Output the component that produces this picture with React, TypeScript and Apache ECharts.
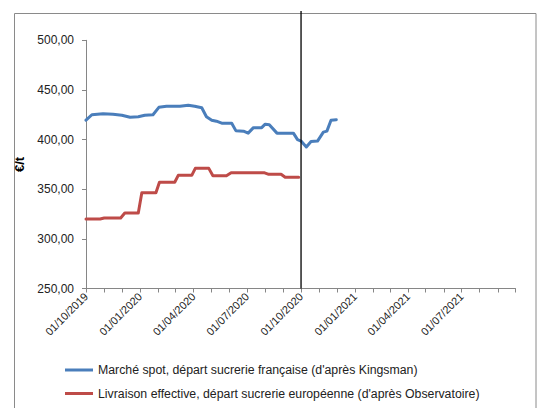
import React, { useEffect, useRef } from "react";
import * as echarts from "echarts";

// Blue: Marché spot (Kingsman)
const blueDates = [
  "2019-10-01", "2019-10-11", "2019-10-30", "2019-11-16", "2019-12-01", "2019-12-15",
  "2019-12-29", "2020-01-09", "2020-01-23", "2020-02-02", "2020-02-15", "2020-03-09",
  "2020-03-23", "2020-04-03", "2020-04-15", "2020-04-23", "2020-05-02", "2020-05-10",
  "2020-05-19", "2020-06-05", "2020-06-12", "2020-06-25", "2020-07-03", "2020-07-12",
  "2020-07-26", "2020-08-01", "2020-08-08", "2020-08-21", "2020-09-18", "2020-09-25",
  "2020-10-01", "2020-10-10", "2020-10-18", "2020-10-29", "2020-11-08", "2020-11-14",
  "2020-11-21", "2020-11-30",
];
const blueValues = [
  419.5, 425, 426, 425.5, 424.5, 422.5,
  423, 424.5, 425, 432.5, 433.5, 433.5,
  434.5, 433.5, 432, 423, 419.5, 418.5,
  416.5, 416.5, 409, 408.5, 406.5, 412,
  412, 415.5, 415, 406.5, 406.5, 400,
  398.5, 392.5, 398, 398.5, 407.5, 408.5,
  419.5, 420,
];

// Red: Livraison effective (Observatoire)
const redDates = [
  "2019-10-01", "2019-10-25", "2019-11-01", "2019-11-29", "2019-12-06", "2019-12-29",
  "2020-01-04", "2020-01-28", "2020-02-03", "2020-02-29", "2020-03-06", "2020-03-29",
  "2020-04-04", "2020-04-27", "2020-05-04", "2020-05-27", "2020-06-04", "2020-07-31",
  "2020-08-07", "2020-08-28", "2020-09-04", "2020-09-27",
];
const redValues = [
  320, 320, 321, 321, 326, 326,
  346.5, 346.5, 357, 357, 364, 364,
  371, 371, 363.5, 363.5, 366.5, 366.5,
  365, 365, 362, 362,
];

const labelDates = [
  "2019-10-01", "2020-01-01", "2020-04-01", "2020-07-01",
  "2020-10-01", "2021-01-01", "2021-04-01", "2021-07-01",
];
const tickDates = [
  "2019-10-01", "2019-11-01", "2019-12-01", "2020-01-01", "2020-02-01", "2020-03-01",
  "2020-04-01", "2020-05-01", "2020-06-01", "2020-07-01", "2020-08-01", "2020-09-01",
  "2020-10-01", "2020-11-01", "2020-12-01", "2021-01-01", "2021-02-01", "2021-03-01",
  "2021-04-01", "2021-05-01", "2021-06-01", "2021-07-01", "2021-08-01", "2021-09-01",
  "2021-10-01",
];
const xMin = "2019-10-01";
const xMax = "2021-10-01";
const markerDate = "2020-10-01";

const blueName = "Marché spot, départ sucrerie française (d'après Kingsman)";
const redName = "Livraison effective, départ sucrerie européenne (d'après Observatoire)";

const t = (s: string) => {
  const [y, m, d] = s.split("-").map(Number);
  return new Date(y, m - 1, d).getTime();
};
const pad = (n: number) => (n < 10 ? "0" + n : "" + n);
const fmtDate = (v: number) => {
  const d = new Date(v);
  return pad(d.getDate()) + "/" + pad(d.getMonth() + 1) + "/" + d.getFullYear();
};

const FONT = "Liberation Sans";
const AXIS_GREY = "#868686";

export default function App() {
  const ref = useRef<HTMLDivElement>(null);
  useEffect(() => {
    if (!ref.current) return;
    const chart = echarts.init(ref.current, undefined, { renderer: "svg" });
    chart.setOption({
      animation: false,
      textStyle: { fontFamily: FONT },
      grid: { left: 86, right: 25.5, top: 40.3, bottom: 119.5 },
      xAxis: {
        type: "value",
        min: t(xMin),
        max: t(xMax),
        scale: true,
        splitLine: { show: false },
        axisLine: { lineStyle: { color: AXIS_GREY, width: 1 } },
        axisTick: {
          show: true,
          length: 4,
          customValues: tickDates.map(t),
          lineStyle: { color: AXIS_GREY },
        },
        axisLabel: {
          customValues: labelDates.map(t),
          formatter: (v: number) => fmtDate(v),
          rotate: 45,
          fontSize: 11,
          color: "#222",
          margin: 6,
          fontFamily: FONT,
        },
      },
      yAxis: {
        type: "value",
        min: 250,
        max: 500,
        interval: 50,
        name: "€/t",
        nameLocation: "middle",
        nameGap: 48,
        nameRotate: 90,
        nameTextStyle: { fontWeight: "bold", fontSize: 13, color: "#000", fontFamily: FONT },
        splitLine: { show: false },
        axisLine: { show: true, lineStyle: { color: AXIS_GREY, width: 1 } },
        axisTick: { show: true, length: 4, lineStyle: { color: AXIS_GREY } },
        axisLabel: {
          formatter: (v: number) => v.toFixed(2).replace(".", ","),
          fontSize: 12,
          color: "#222",
          margin: 12,
          fontFamily: FONT,
        },
      },
      legend: {
        orient: "vertical",
        left: 65,
        top: 363,
        padding: 0,
        height: 44,
        icon: "rect",
        itemWidth: 28,
        itemHeight: 3,
        itemGap: 9.5,
        textStyle: { fontSize: 12.3, color: "#222", lineHeight: 14, fontFamily: FONT },
        data: [blueName, redName],
      },
      series: [
        {
          name: blueName,
          type: "line",
          data: blueDates.map((d, i) => [t(d), blueValues[i]]),
          showSymbol: false,
          symbol: "none",
          lineStyle: { color: "#4A7EBB", width: 3, join: "round", cap: "round" },
          itemStyle: { color: "#4A7EBB" },
        },
        {
          name: redName,
          type: "line",
          data: redDates.map((d, i) => [t(d), redValues[i]]),
          showSymbol: false,
          symbol: "none",
          lineStyle: { color: "#BE4B48", width: 3, join: "round", cap: "round" },
          itemStyle: { color: "#BE4B48" },
        },
      ],
    });
    const mx = chart.convertToPixel({ xAxisIndex: 0 }, t(markerDate)) as number;
    const yBottom = chart.convertToPixel({ yAxisIndex: 0 }, 250) as number;
    chart.setOption({
      graphic: [
        {
          type: "rect",
          shape: { x: 14.5, y: 13.5, width: 521.5, height: 420 },
          style: { fill: "none", stroke: "#8a8a8a", lineWidth: 1 },
          silent: true,
          z: -1,
        },
        {
          type: "line",
          shape: { x1: mx, y1: 11, x2: mx, y2: yBottom },
          style: { stroke: "#000", lineWidth: 1.3 },
          silent: true,
          z: 100,
        },
      ],
    });
    return () => chart.dispose();
  }, []);
  return (
    <div
      ref={ref}
      style={{ position: "absolute", left: 0, top: 0, width: 541, height: 408, background: "#fff" }}
    />
  );
}
